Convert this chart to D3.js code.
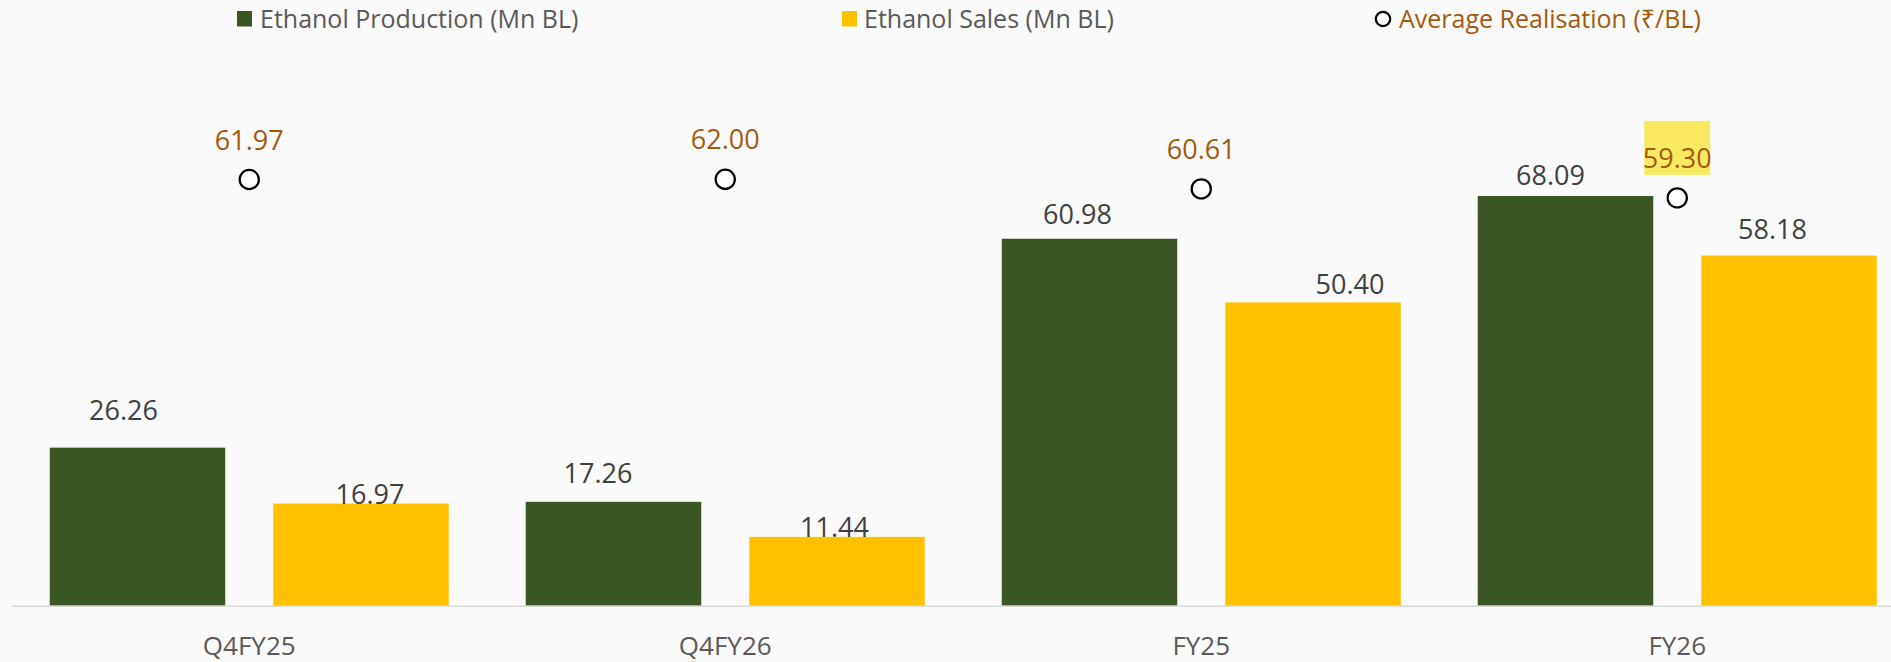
<!DOCTYPE html>
<html>
<head>
<meta charset="utf-8">
<script src="https://cdn.jsdelivr.net/npm/d3@7"></script>
<style>
  html, body { margin: 0; padding: 0; background: #fafafa; }
  svg { display: block; font-family: 'Open Sans', 'Noto Sans', sans-serif; }
</style>
</head>
<body>
<svg id="chart" width="1891" height="662"></svg>
<script>
// chart data
const categories = ['Q4FY25', 'Q4FY26', 'FY25', 'FY26']
const production = [26.26, 17.26, 60.98, 68.09]
const sales = [16.97, 11.44, 50.40, 58.18]
const realisation = [61.97, 62.00, 60.61, 59.30]
const seriesNames = ['Ethanol Production (Mn BL)', 'Ethanol Sales (Mn BL)', 'Average Realisation (₹/BL)']
const highlighted = 'FY26'

const green = '#3a5723'
const yellow = '#ffc000'
const brown = '#a35a0c'
const labelGrey = '#404040'
const axisGrey = '#595959'

const baseline = 605.7
const plotTop = 124.3

// the data labels were dragged by hand in the original, these are the nudges
// [dx from bar centre, px above bar top]
const prodNudge = [[-14, 27.7], [-15.5, 18.4], [-12, 14.3], [-15, 11]]
const salesNudge = [[9, 0], [-2.5, -0.6], [37, 8], [-16.5, 17]]

let svg = d3.select('#chart')

let x0 = d3.scaleBand().domain(categories).range([11.25, 11.25 + 476 * 4])
let x1 = d3
  .scaleBand()
  .domain(['prod', 'sales'])
  .range([0, x0.bandwidth()])
  .paddingInner(0.2148)
  .paddingOuter(0.1723)
let y = d3.scaleLinear().domain([0, 80]).range([baseline, plotTop])
let y2 = d3.scaleLinear().domain([0, 70]).range([baseline, plotTop])

let rows = categories.map((c, i) => ({
  cat: c,
  prod: production[i],
  sales: sales[i],
  real: realisation[i],
  i: i,
}))

// bars
let groups = svg
  .selectAll('.cat')
  .data(rows)
  .enter()
  .append('g')
  .attr('class', 'cat')
  .attr('transform', (d) => 'translate(' + x0(d.cat) + ',0)')

groups
  .append('rect')
  .attr('x', x1('prod'))
  .attr('y', (d) => y(d.prod))
  .attr('width', x1.bandwidth())
  .attr('height', (d) => baseline - y(d.prod))
  .attr('fill', green)

groups
  .append('rect')
  .attr('x', x1('sales'))
  .attr('y', (d) => y(d.sales))
  .attr('width', x1.bandwidth())
  .attr('height', (d) => baseline - y(d.sales))
  .attr('fill', yellow)

// x axis
let xAxis = d3.axisBottom(x0).tickSize(0).tickSizeOuter(0)
let gx = svg
  .append('g')
  .attr('transform', 'translate(0,' + baseline + ')')
  .call(xAxis)
gx.select('.domain').attr('stroke', '#d9d9d9').attr('stroke-width', 1.5)
gx.selectAll('text')
  .attr('y', 49.5)
  .attr('dy', null)
  .attr('fill', axisGrey)
  .style('font-size', '26px')
  .style('font-family', "'Open Sans', sans-serif")

// bar labels
groups
  .append('text')
  .attr('x', (d) => x1('prod') + x1.bandwidth() / 2 + prodNudge[d.i][0])
  .attr('y', (d) => y(d.prod) - prodNudge[d.i][1])
  .attr('text-anchor', 'middle')
  .attr('fill', labelGrey)
  .style('font-size', '27px')
  .text((d) => d.prod.toFixed(2))

groups
  .append('text')
  .attr('x', (d) => x1('sales') + x1.bandwidth() / 2 + salesNudge[d.i][0])
  .attr('y', (d) => y(d.sales) - salesNudge[d.i][1])
  .attr('text-anchor', 'middle')
  .attr('fill', labelGrey)
  .style('font-size', '27px')
  .text((d) => d.sales.toFixed(2))

// average realisation markers (secondary axis)
let mid = x0.bandwidth() / 2

groups
  .filter((d) => d.cat === highlighted)
  .append('rect')
  .attr('x', mid - 33)
  .attr('y', (d) => y2(d.real) - 77)
  .attr('width', 66)
  .attr('height', 54)
  .attr('fill', '#f9e962')

groups
  .append('circle')
  .attr('cx', mid)
  .attr('cy', (d) => y2(d.real))
  .attr('r', 9.6)
  .attr('fill', '#ffffff')
  .attr('stroke', '#000000')
  .attr('stroke-width', 2.2)

groups
  .append('text')
  .attr('x', mid)
  .attr('y', (d) => y2(d.real) - 30)
  .attr('text-anchor', 'middle')
  .attr('fill', brown)
  .style('font-size', '27px')
  .text((d) => d.real.toFixed(2))

// legend
let legend = svg.append('g').attr('class', 'legend')

legend.append('rect').attr('x', 237).attr('y', 11).attr('width', 15).attr('height', 15.5).attr('fill', green)
legend
  .append('text')
  .attr('x', 260)
  .attr('y', 27.5)
  .attr('fill', axisGrey)
  .style('font-size', '25px')
  .text(seriesNames[0])

legend.append('rect').attr('x', 842).attr('y', 11).attr('width', 15).attr('height', 15.5).attr('fill', yellow)
legend
  .append('text')
  .attr('x', 864)
  .attr('y', 27.5)
  .attr('fill', axisGrey)
  .style('font-size', '25px')
  .text(seriesNames[1])

legend
  .append('circle')
  .attr('cx', 1383)
  .attr('cy', 19)
  .attr('r', 7.2)
  .attr('fill', '#ffffff')
  .attr('stroke', '#000000')
  .attr('stroke-width', 2.2)
legend
  .append('text')
  .attr('x', 1399)
  .attr('y', 27.5)
  .attr('fill', brown)
  .style('font-size', '25px')
  .text(seriesNames[2])
</script>
</body>
</html>
